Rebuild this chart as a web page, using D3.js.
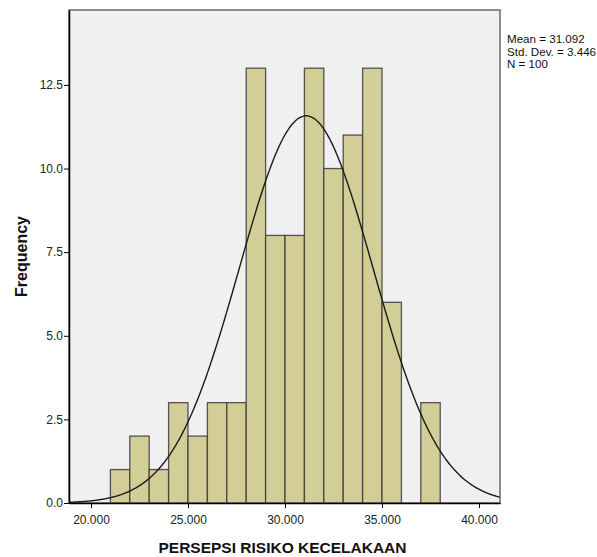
<!DOCTYPE html>
<html>
<head>
<meta charset="utf-8">
<script src="https://cdn.jsdelivr.net/npm/d3@7.9.0/dist/d3.min.js"></script>
<style>
  body { margin: 0; background: #fff; }
  svg { display: block; font-family: "Liberation Sans", Arial, sans-serif; }
</style>
</head>
<body>
<svg id="chart" width="597" height="557"></svg>
<script>
// --- data ---
const binStarts = [21, 22, 23, 24, 25, 26, 27, 28, 29, 30, 31, 32, 33, 34, 35, 36, 37];
const counts    = [ 1,  2,  1,  3,  2,  3,  3, 13,  8,  8, 13, 10, 11, 13,  6,  0,  3];
const xTicks    = [20, 25, 30, 35, 40];
const yTicks    = [0, 2.5, 5, 7.5, 10, 12.5];
const stats     = ['Mean = 31.092', 'Std. Dev. = 3.446', 'N = 100'];
const mean = 31.092, sd = 3.446, n = 100, binWidth = 1;

// --- layout ---
const plotL = 69, plotR = 500, plotT = 10, plotB = 503;

const x = d3.scaleLinear().domain([18.866, 41.082]).range([plotL, plotR]);
const y = d3.scaleLinear().domain([0, 14.74]).range([plotB, plotT]);

const svg = d3.select('#chart');

// plot background + frame
svg.append('rect')
  .attr('x', plotL).attr('y', plotT)
  .attr('width', plotR - plotL).attr('height', plotB - plotT)
  .attr('fill', '#f0f0f0')
  .attr('stroke', '#8c8c8c')
  .attr('stroke-width', 2);

// bars
const bins = binStarts.map((s, i) => ({ x0: s, x1: s + binWidth, count: counts[i] }))
                      .filter(d => d.count > 0);
svg.append('g').selectAll('rect')
  .data(bins)
  .join('rect')
  .attr('x', d => x(d.x0))
  .attr('y', d => y(d.count))
  .attr('width', d => x(d.x1) - x(d.x0))
  .attr('height', d => y(0) - y(d.count))
  .attr('fill', '#d3ce97')
  .attr('stroke', '#3a3a3a')
  .attr('stroke-opacity', 0.85)
  .attr('stroke-width', 1.3);

// normal curve
const pdf = v => n * binWidth * Math.exp(-0.5 * ((v - mean) / sd) ** 2) / (sd * Math.sqrt(2 * Math.PI));
const xs = d3.range(x.domain()[0], x.domain()[1], 0.05);
svg.append('path')
  .datum(xs)
  .attr('fill', 'none')
  .attr('stroke', '#1a1a1a')
  .attr('stroke-width', 1.4)
  .attr('d', d3.line().x(d => x(d)).y(d => y(pdf(d))).curve(d3.curveBasis));

// axes
const xAxis = svg.append('g')
  .attr('transform', `translate(0,${plotB})`)
  .call(d3.axisBottom(x).tickValues(xTicks).tickFormat(d3.format('.3f')).tickSize(5).tickSizeOuter(0));
const yAxis = svg.append('g')
  .attr('transform', `translate(${plotL},0)`)
  .call(d3.axisLeft(y).tickValues(yTicks).tickFormat(d3.format('.1f')).tickSize(5).tickSizeOuter(0));

[xAxis, yAxis].forEach(g => {
  g.select('.domain').attr('stroke', '#000').attr('stroke-width', 1.5);
  g.selectAll('.tick line').attr('stroke', '#000');
  g.selectAll('.tick text')
    .attr('fill', '#222')
    .attr('font-size', 12)
    .attr('font-family', '"Liberation Sans", Arial, sans-serif');
});
xAxis.selectAll('.tick text').attr('dy', '1.05em');
yAxis.selectAll('.tick text').attr('x', -6);

// axis titles
svg.append('text')
  .attr('x', (plotL + plotR) / 2 - 2).attr('y', 553)
  .attr('text-anchor', 'middle')
  .attr('font-size', 15.5).attr('font-weight', 'bold')
  .attr('fill', '#111')
  .text('PERSEPSI RISIKO KECELAKAAN');

svg.append('text')
  .attr('transform', `translate(27,${(plotT + plotB) / 2}) rotate(-90)`)
  .attr('text-anchor', 'middle')
  .attr('font-size', 16).attr('font-weight', 'bold')
  .attr('fill', '#111')
  .text('Frequency');

// stats legend
svg.append('g').selectAll('text')
  .data(stats)
  .join('text')
  .attr('x', 507)
  .attr('y', (d, i) => 43 + i * 12.5)
  .attr('font-size', 11.6)
  .attr('fill', '#111')
  .text(d => d);
</script>
</body>
</html>
